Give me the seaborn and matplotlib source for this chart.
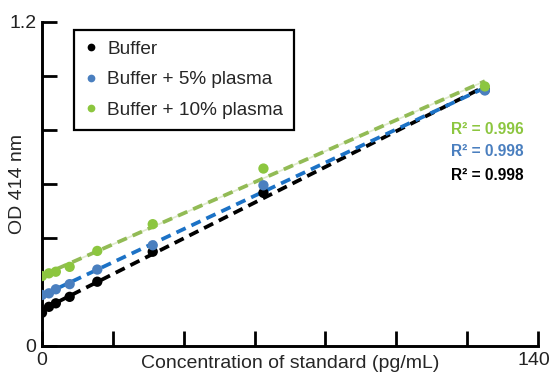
import numpy as np
import pandas as pd
import matplotlib
matplotlib.use("Agg")
import matplotlib.pyplot as plt
import matplotlib.transforms as mtransforms
import seaborn as sns

# standard curve, serial dilution of the standard (pg/mL)
conc = [0, 1.95, 3.9, 7.8, 15.6, 31.25, 62.5, 125]
od_buffer = [0.123, 0.145, 0.158, 0.182, 0.238, 0.349, 0.567, 0.949]
od_plasma5 = [0.189, 0.195, 0.210, 0.229, 0.283, 0.373, 0.595, 0.946]
od_plasma10 = [0.259, 0.269, 0.275, 0.293, 0.352, 0.451, 0.657, 0.961]

series = ["Buffer", "Buffer + 5% plasma", "Buffer + 10% plasma"]
r2_labels = ["R² = 0.998", "R² = 0.998", "R² = 0.996"]
marker_colors = ["#000000", "#4a7fbf", "#8cc63f"]
line_colors = ["#000000", "#1c72c6", "#92bb55"]

df = pd.DataFrame({
    "conc": conc * 3,
    "od": od_buffer + od_plasma5 + od_plasma10,
    "sample": [s for s in series for _ in conc],
})

sns.set_style("ticks")
plt.rcParams["font.family"] = ["Liberation Sans", "DejaVu Sans"]

fig = plt.figure(figsize=(5.5, 3.76), dpi=100)
ax = fig.add_axes([0.0764, 0.0798, 0.9018, 0.862])

# fitted lines first so the dots sit on top
for name, lc in zip(series, line_colors):
    sub = df[df["sample"] == name]
    if name == series[2]:
        sns.regplot(data=sub, x="conc", y="od", ax=ax, scatter=False, ci=None,
                    line_kws=dict(color="#dfeacb", lw=1.2, zorder=1))
    sns.regplot(data=sub, x="conc", y="od", ax=ax, scatter=False, ci=None,
                line_kws=dict(color=lc, lw=2.7, ls=(0, (2.7, 1.7)), zorder=2))

sns.scatterplot(data=df, x="conc", y="od", hue="sample", hue_order=series,
                palette=marker_colors, s=55, linewidth=0, ax=ax, zorder=3)

# R² annotations
for (txt, col, yy) in zip(r2_labels, marker_colors, [0.632, 0.72, 0.80]):
    ax.text(136, yy, txt, color=col, fontsize=11.2, fontweight="bold",
            ha="right", va="center")

ax.set_xlim(0, 140)
ax.set_ylim(0, 1.2)
ax.set_xticks(np.arange(0, 141, 20))
ax.set_xticklabels(["0", "", "", "", "", "", "", "140"])
ax.set_yticks(np.arange(0, 1.21, 0.2))
ax.set_yticklabels(["0", "", "", "", "", "", "1.2"])
ax.tick_params(direction="in", length=11, width=2, labelsize=14, pad=4,
               color="black", labelcolor="#222222")
for side in ["top", "right"]:
    ax.spines[side].set_visible(False)
for side in ["left", "bottom"]:
    ax.spines[side].set_linewidth(2.1)
    ax.spines[side].set_color("black")

# nudge the "140" label left so it stays inside the figure
last = ax.get_xticklabels()[-1]
last.set_transform(last.get_transform() +
                   mtransforms.ScaledTranslation(-4 / 100, 0, fig.dpi_scale_trans))

ax.set_xlabel("Concentration of standard (pg/mL)", fontsize=14, labelpad=-10)
ax.set_ylabel("OD 414 nm", fontsize=14)
ax.yaxis.set_label_coords(-0.032, 0.5)

leg = ax.legend(loc="upper left", bbox_to_anchor=(0.0645, 0.975),
                borderaxespad=0, fontsize=13.7, frameon=True, fancybox=False,
                handletextpad=0.5, markerscale=0.75, labelspacing=0.7,
                borderpad=0.55, handlelength=0.7)
leg.get_frame().set_edgecolor("black")
leg.get_frame().set_linewidth(1.6)
leg.get_frame().set_alpha(1)

fig.savefig("out.png", dpi=100)
